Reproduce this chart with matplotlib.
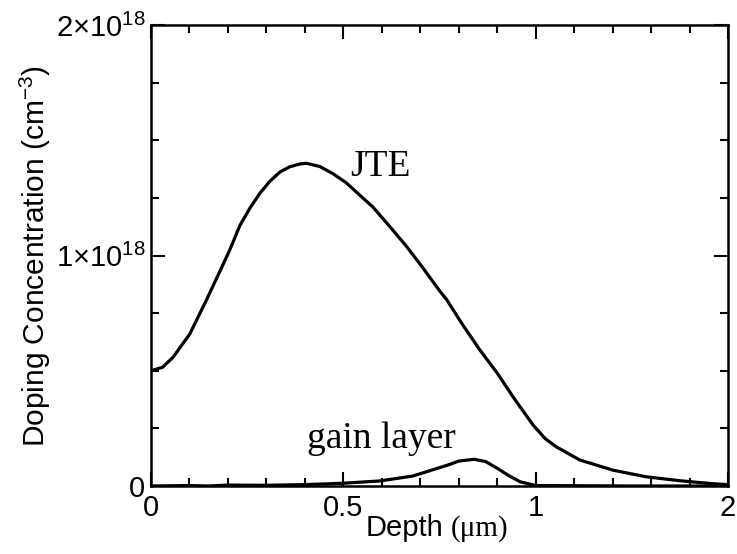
import numpy as np
import matplotlib
matplotlib.use("Agg")
import matplotlib.pyplot as plt
from matplotlib.ticker import FixedLocator

# ---- data (doping in units of 1e18 cm^-3) ----
jte_depth = [0, 0.03, 0.058, 0.101, 0.145, 0.187, 0.205, 0.231, 0.257, 0.283, 0.309,
             0.335, 0.361, 0.387, 0.404, 0.439, 0.473, 0.508, 0.534, 0.577, 0.621,
             0.664, 0.707, 0.751, 0.768, 0.81, 0.855, 0.90, 0.941, 0.993, 1.05,
             1.107, 1.229, 1.40, 1.574, 1.748, 1.92, 2.0]
jte_conc = [0.50, 0.515, 0.56, 0.66, 0.81, 0.96, 1.025, 1.13, 1.205, 1.27, 1.322,
            1.362, 1.385, 1.397, 1.40, 1.386, 1.355, 1.315, 1.275, 1.21, 1.125,
            1.04, 0.946, 0.845, 0.81, 0.70, 0.59, 0.49, 0.387, 0.265, 0.205,
            0.17, 0.113, 0.069, 0.040, 0.023, 0.010, 0.006]

gain_depth = [0, 0.1, 0.15, 0.2, 0.3, 0.4, 0.5, 0.595, 0.68, 0.77, 0.80, 0.84,
              0.87, 0.90, 0.93, 0.96, 1.0, 1.5, 2.0]
gain_conc = [0, 0.002, 0.0, 0.004, 0.003, 0.006, 0.012, 0.022, 0.043, 0.09, 0.108,
             0.116, 0.106, 0.077, 0.045, 0.018, 0.002, 0.0, 0.0]

x_major = [0, 0.5, 1, 2]
x_major_labels = ["0", "0.5", "1", "2"]
x_minor = [0.1, 0.2, 0.3, 0.4, 0.6, 0.7, 0.8, 0.9, 1.2, 1.4, 1.6, 1.8]
y_major = [0, 1, 2]
y_major_labels = ["0", "1\u00d710$^{18}$", "2\u00d710$^{18}$"]
y_minor = [0.25, 0.5, 0.75, 1.25, 1.5, 1.75]

plt.rcParams['font.family'] = ['Liberation Sans', 'DejaVu Sans']
plt.rcParams['mathtext.fontset'] = 'custom'
plt.rcParams['mathtext.rm'] = 'Liberation Sans'
plt.rcParams['mathtext.default'] = 'regular'

fig = plt.figure(figsize=(7.37, 5.54), dpi=100)
ax = fig.add_axes([151/737, 1-486/554, (728-151)/737, (486-25)/554])

def fwd(x):
    x = np.asarray(x, dtype=float)
    return np.where(x <= 1, x, 1 + (x - 1) / 2)

def inv(y):
    y = np.asarray(y, dtype=float)
    return np.where(y <= 1, y, 1 + (y - 1) * 2)

ax.set_xscale('function', functions=(fwd, inv))
ax.plot(jte_depth, jte_conc, color='black', lw=2.3, solid_joinstyle='round')
ax.plot(gain_depth, gain_conc, color='black', lw=2.3, solid_joinstyle='round')

ax.set_xlim(0, 2)
ax.set_ylim(0, 2)

ax.xaxis.set_minor_locator(FixedLocator(x_minor))
ax.yaxis.set_minor_locator(FixedLocator(y_minor))
ax.set_xticks(x_major)
ax.set_xticklabels(x_major_labels, fontsize=21)
ax.set_yticks(y_major)
ax.set_yticklabels(y_major_labels, fontsize=21)
ax.xaxis.set_minor_formatter(plt.NullFormatter())
ax.yaxis.set_minor_formatter(plt.NullFormatter())

ax.tick_params(which='both', direction='in', top=True, right=True, width=1.5,
               colors='black')
ax.tick_params(which='major', length=10)
ax.tick_params(which='minor', length=6)
ax.tick_params(axis='x', which='major', pad=6)
ax.tick_params(axis='y', which='major', pad=4)
for s in ax.spines.values():
    s.set_linewidth(1.8)

ax.set_ylabel("Doping Concentration (cm$^{-3}$)", fontsize=21.5, labelpad=2)

# x label with serif unit part
fig.text(366/737, 1-536/554, "Depth", fontsize=21, ha='left', va='baseline')
fig.text(451/737, 1-536/554, "(\u03bcm)", fontsize=21, ha='left', va='baseline',
         family=['Liberation Serif', 'DejaVu Serif'])

ax.text(0.517, 1.345, "JTE", fontsize=27, family=['Liberation Serif'],
        ha='left', va='baseline')
ax.text(0.405, 0.165, "gain layer", fontsize=27, family=['Liberation Serif'],
        ha='left', va='baseline')

fig.savefig("out.png", dpi=100)
